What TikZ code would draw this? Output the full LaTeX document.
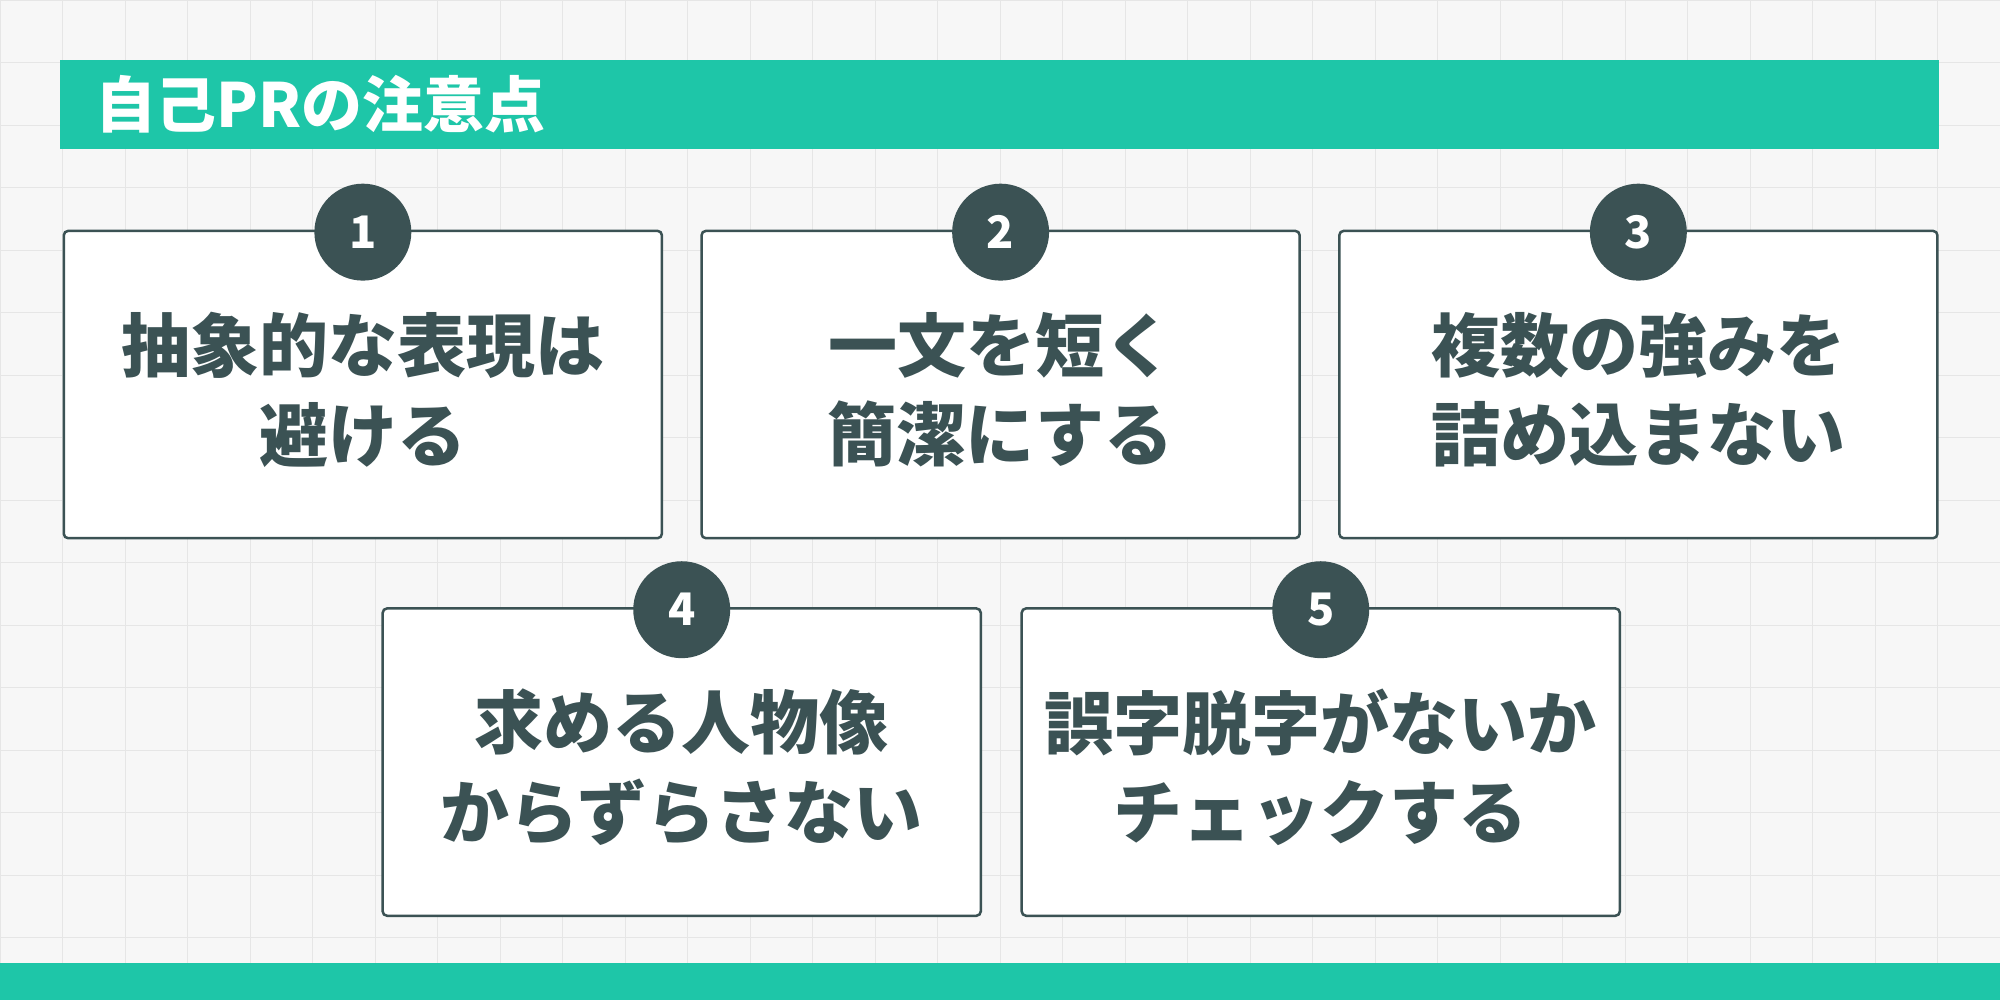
\documentclass[tikz,border=0pt]{standalone}
\usepackage{fontspec}
\newfontfamily\jp{Noto Sans CJK JP}
\definecolor{teal}{HTML}{1EC6A8}
\definecolor{dk}{HTML}{3B5254}
\definecolor{bg}{HTML}{F7F7F7}
\definecolor{gridc}{HTML}{E6E6E6}
\begin{document}
\begin{tikzpicture}[x=0.05cm,y=-0.05cm,
  card/.style={draw=dk,line width=2.8pt,rounded corners=5pt,fill=white,minimum width=23.45cm,minimum height=12.05cm,anchor=north west},
  num/.style={circle,fill=dk,minimum size=3.8cm,inner sep=0pt,text=white,font=\jp\bfseries\fontsize{50}{50}\selectfont},
  txt/.style={text=dk,align=center,font=\jp\bfseries\fontsize{77}{100}\selectfont}]
\useasboundingbox (0,0) rectangle (1568,784);
\fill[bg] (0,0) rectangle (1568,784);
\foreach \i in {0,...,32} {\draw[gridc,line width=0.8pt] (\i*49,0) -- (\i*49,784);}
\foreach \j in {0,...,16} {\draw[gridc,line width=0.8pt] (0,\j*49) -- (1568,\j*49);}
\fill[teal] (47,47) rectangle (1520,117);
\node[anchor=west,text=white,font=\jp\bfseries\fontsize{68}{68}\selectfont] (title) at (72,82) {自己PRの注意点};
\fill[teal] (0,755) rectangle (1568,784);
\node[card] (b1) at (49,180) {};
\node[card] (b2) at (549,180) {};
\node[card] (b3) at (1049,180) {};
\node[card] (b4) at (299,476) {};
\node[card] (b5) at (800,476) {};
\foreach \b/\n in {b1/1,b2/2,b3/3,b4/4,b5/5} {\node[num] (n\n) at ([yshift=-0.1cm]\b.north) {\n};}
\node[txt] (t1) at ([yshift=-0.2cm]b1.center) {抽象的な表現は\\避ける};
\node[txt] (t2) at ([yshift=-0.2cm]b2.center) {一文を短く\\簡潔にする};
\node[txt] (t3) at ([yshift=-0.2cm]b3.center) {複数の強みを\\詰め込まない};
\node[txt] (t4) at ([yshift=-0.2cm]b4.center) {求める人物像\\からずらさない};
\node[txt] (t5) at ([yshift=-0.2cm]b5.center) {誤字脱字がないか\\チェックする};
\end{tikzpicture}
\end{document}
